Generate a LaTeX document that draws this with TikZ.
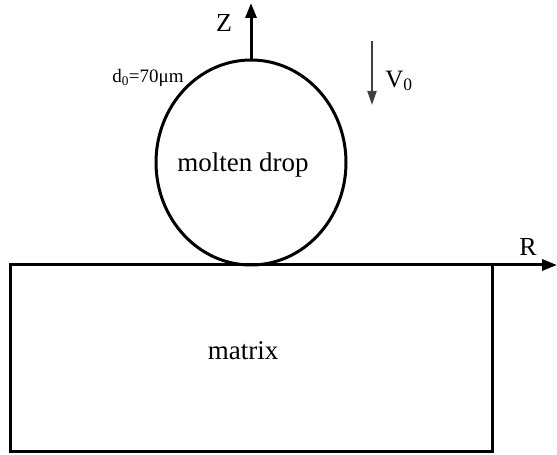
\documentclass[tikz,border=0pt]{standalone}
\usepackage{fontspec}
\setmainfont{Liberation Serif}
\usetikzlibrary{arrows.meta}

\begin{document}
\begin{tikzpicture}[x=1pt,y=1pt,
    thick line/.style={line width=3pt},
    axis/.style={line width=3pt,-{Triangle[length=15pt,width=11pt]}},
    word/.style={font=\fontsize{27}{27}\selectfont}]
            \useasboundingbox(0,0)rectangle(557,455);
            \coordinate(O)at(251,292.5);
            \coordinate(T)at(251,395);
            \coordinate(Z)at(251,452);
            \coordinate(A)at(10,190);
            \coordinate(B)at(492,190);
            \coordinate(C)at(492,3);
            \coordinate(D)at(10,3);
            \coordinate(R)at(557,190);
            \coordinate(V1)at(372,414);
            \coordinate(V2)at(372,350);
            \draw[thick line](O)ellipse[x radius=95pt, y radius=102.5pt];
            \draw[thick line](A)--(B)--(C)--(D)--cycle;
            \draw[axis](T)--(Z);
            \draw[axis](B)--(R);
            \draw[line width=2pt,black!75,-{Triangle[length=14pt,width=9pt]}](V1)--(V2);
            \node[font=\fontsize{26}{26}\selectfont](zlab)at(224,432){Z};
            \node[font=\fontsize{26}{26}\selectfont](rlab)at(528,208){R};
            \node[font=\fontsize{25}{25}\selectfont](vlab)at(399,374){V\textsubscript{0}};
            \node[font=\fontsize{19}{19}\selectfont](dlab)at(148,377){d\textsubscript{0}=70μm};
            \node[word](drop)at(243,290){molten drop};
            \node[word](mat)at(243,104){matrix};
        \end{tikzpicture}
\end{document}
